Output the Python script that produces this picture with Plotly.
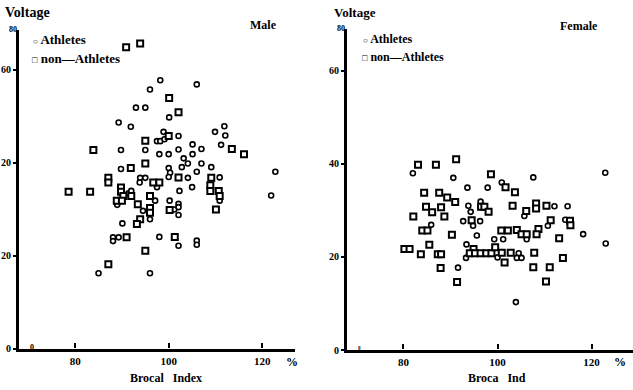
import plotly.graph_objects as go

# ---------------- data (Broca index %, voltage) ----------------
male_ath_x = [98.2, 106.0, 96.0, 93.0, 95.0, 100.1, 89.3, 91.9, 111.9, 109.9, 112.1, 98.9, 97.5, 98.2,
              99.1, 102.1, 105.1, 111.2, 89.8, 95.0, 102.1, 107.0, 98.0, 100.0, 105.1, 103.2, 104.1,
              107.0, 89.8, 100.0, 100.3, 100.0, 102.8, 109.1, 106.0, 122.8, 93.9, 93.8, 95.0, 104.1,
              110.9, 97.5, 105.0, 91.4, 92.0, 102.3, 121.9, 97.1, 100.2, 110.9, 89.0, 94.5, 101.2,
              102.1, 102.1, 102.1, 90.1, 96.0, 88.1, 88.1, 89.3, 98.0, 102.1, 106.0, 106.0, 85.0, 96.0]
male_ath_y = [57.7, 56.8, 55.7, 51.8, 51.8, 49.7, 48.6, 47.7, 47.8, 46.6, 45.8, 46.6, 44.6, 44.6,
              45.0, 45.7, 43.9, 43.8, 42.7, 42.7, 42.8, 42.9, 41.8, 41.8, 41.8, 40.9, 39.8,
              39.8, 38.6, 38.8, 37.8, 36.9, 39.0, 39.0, 38.0, 38.0, 36.7, 35.7, 36.7, 36.7,
              36.8, 34.7, 34.7, 33.4, 33.9, 33.9, 32.9, 31.8, 31.8, 31.8, 30.9, 29.6, 29.9,
              31.1, 30.4, 28.7, 26.9, 27.8, 23.9, 23.1, 23.9, 24.0, 22.1, 23.2, 22.3, 16.2, 16.2]

male_non_x = [90.9, 93.9, 100.1, 102.1, 100.0, 95.0, 83.9, 113.5, 116.1, 91.9, 95.0, 102.1, 109.1,
              87.1, 87.1, 96.7, 98.0, 78.6, 83.2, 89.8, 89.8, 90.3, 92.0, 88.9, 90.0, 93.4, 96.0,
              108.9, 108.9, 110.7, 110.9, 96.0, 96.0, 100.2, 110.1, 93.9, 93.2, 91.0, 101.3, 95.0, 87.1]
male_non_y = [64.8, 65.6, 53.9, 50.8, 45.7, 44.7, 42.7, 42.9, 41.8, 38.8, 39.8, 36.8, 36.7,
              36.7, 35.7, 35.7, 35.7, 33.7, 33.7, 34.6, 33.7, 32.8, 32.8, 31.8, 31.8, 31.0, 32.8,
              35.1, 33.9, 33.9, 32.8, 30.2, 29.2, 29.8, 29.9, 27.8, 26.8, 23.9, 24.0, 21.0, 18.1]

fem_ath_x = [82.0, 90.6, 107.6, 122.9, 93.6, 97.9, 100.9, 96.4, 93.8, 94.3, 112.1, 114.9, 85.9,
             92.7, 94.8, 96.3, 105.7, 110.7, 114.4, 95.6, 99.3, 101.2, 106.2, 118.2, 123.0, 93.4,
             93.3, 100.0, 104.5, 104.1, 105.1, 91.6, 103.9]
fem_ath_y = [38.0, 37.0, 37.1, 38.1, 34.9, 34.9, 36.0, 31.9, 31.0, 29.7, 30.9, 30.9, 26.9,
             27.7, 26.7, 27.7, 28.8, 26.7, 28.0, 24.6, 23.8, 23.8, 23.8, 24.9, 22.9, 22.7,
             19.8, 19.9, 20.8, 19.8, 19.8, 17.7, 10.3]

fem_non_x = [91.2, 83.1, 86.9, 98.6, 101.7, 103.7, 84.4, 87.6, 89.3, 91.0, 84.8, 88.0, 86.1, 82.1,
             88.7, 96.5, 97.2, 98.1, 103.2, 106.1, 108.2, 108.2, 110.4, 94.5, 111.3, 115.4, 115.5,
             84.0, 85.1, 90.3, 100.8, 102.2, 104.1, 105.1, 106.2, 108.7, 108.3, 113.1, 85.5, 80.2,
             81.3, 83.7, 87.3, 88.0, 94.9, 94.1, 95.2, 96.4, 97.6, 98.7, 99.5, 100.9, 102.8, 107.8,
             101.5, 113.9, 87.9, 107.6, 111.1, 91.4, 110.3]
fem_non_y = [41.0, 39.8, 39.8, 37.8, 35.0, 33.9, 33.8, 33.8, 32.8, 31.8, 30.8, 30.7, 29.6, 28.7,
             28.7, 30.8, 30.8, 29.7, 31.0, 29.9, 31.5, 30.4, 31.0, 27.9, 27.9, 27.8, 26.8,
             25.7, 25.7, 24.8, 25.7, 25.7, 25.8, 24.9, 24.9, 26.0, 24.9, 24.0, 22.6, 21.7,
             21.7, 20.6, 20.6, 20.6, 21.7, 20.8, 20.8, 20.8, 20.8, 20.8, 22.1, 20.9, 20.9, 20.9,
             18.8, 19.8, 17.6, 17.8, 17.8, 14.6, 14.7]

x_tickvals = [80, 100, 120]
x_ticktext = ["80", "100", "120"]
y_tickvals = [0, 20, 40, 60]
male_y_ticktext = ["0", "20", "20", "60"]
fem_y_ticktext = ["0", "20", "40", "60"]

# ---------------- figure ----------------
W, H = 633, 390
FONT = "Liberation Serif"

def px(x):
    return x / W

def py(y):
    return 1 - y / H

circle_style = dict(symbol="circle", size=5, color="white", line=dict(color="black", width=1.6))
square_style = dict(symbol="square", size=6, color="white", line=dict(color="black", width=2))

fig = go.Figure()
fig.add_trace(go.Scatter(x=male_ath_x, y=male_ath_y, mode="markers", marker=circle_style,
                         name="Athletes", xaxis="x", yaxis="y", showlegend=False))
fig.add_trace(go.Scatter(x=male_non_x, y=male_non_y, mode="markers", marker=square_style,
                         name="non-Athletes", xaxis="x", yaxis="y", showlegend=False))
fig.add_trace(go.Scatter(x=fem_ath_x, y=fem_ath_y, mode="markers", marker=circle_style,
                         name="Athletes", xaxis="x2", yaxis="y2", showlegend=False))
fig.add_trace(go.Scatter(x=fem_non_x, y=fem_non_y, mode="markers", marker=square_style,
                         name="non-Athletes", xaxis="x2", yaxis="y2", showlegend=False))
# empty traces so the helper tick subplots are created
fig.add_trace(go.Scatter(x=[], y=[], mode="markers", xaxis="x3", yaxis="y3",
                         showlegend=False, hoverinfo="skip"))
fig.add_trace(go.Scatter(x=[], y=[], mode="markers", xaxis="x4", yaxis="y4",
                         showlegend=False, hoverinfo="skip"))

tickfont = dict(family=FONT, size=11, color="black", weight="bold")
ytickfont = dict(family=FONT, size=10, color="black", weight="bold")

def xaxis(domain, rng, anchor):
    return dict(domain=domain, range=rng, anchor=anchor, showgrid=False, zeroline=False,
                showline=True, linecolor="#000000", linewidth=3, ticks="",
                tickvals=x_tickvals, ticktext=x_ticktext,
                tickfont=tickfont, automargin=False, layer="above traces")

def yaxis(domain, rng, anchor, ticktext):
    return dict(domain=domain, range=rng, anchor=anchor, showgrid=False, zeroline=False,
                showline=True, linecolor="#000000", linewidth=3, ticks="outside", ticklen=3,
                tickwidth=2, tickcolor="#000000", tickvals=y_tickvals, ticktext=ticktext,
                tickfont=ytickfont, automargin=False, layer="above traces")

# helper axes: upward tick marks sitting on top of each x axis line
def xtick_axis(domain, rng, anchor):
    return dict(domain=domain, range=rng, anchor=anchor, side="top", showgrid=False,
                zeroline=False, showline=False, ticks="outside", ticklen=5, tickwidth=2,
                tickcolor="#000000", tickvals=x_tickvals, showticklabels=False,
                automargin=False, fixedrange=True)

def ytick_holder(domain, anchor):
    return dict(domain=domain, range=[0, 1], anchor=anchor, showgrid=False, zeroline=False,
                showline=False, ticks="", showticklabels=False, automargin=False,
                fixedrange=True)

fig.update_layout(
    width=W, height=H, margin=dict(l=0, r=0, t=0, b=0, pad=0),
    paper_bgcolor="white", plot_bgcolor="rgba(0,0,0,0)",
    xaxis=xaxis([px(19), px(295)], [68, 127], "y"),
    yaxis=yaxis([py(348.5), py(30)], [0, 68.5], "x", male_y_ticktext),
    xaxis2=xaxis([px(347), 1.0], [68, 128.8], "y2"),
    yaxis2=yaxis([py(350), py(29)], [0, 69], "x2", fem_y_ticktext),
    xaxis3=xtick_axis([px(19), px(295)], [68, 127], "y3"),
    yaxis3=ytick_holder([py(352), py(348.5)], "x3"),
    xaxis4=xtick_axis([px(347), 1.0], [68, 128.8], "y4"),
    yaxis4=ytick_holder([py(353), py(350)], "x4"),
)

def ann(text, x, y, size=12, xanchor="left"):
    fig.add_annotation(text=text, x=px(x), y=py(y), xref="paper", yref="paper",
                       xanchor=xanchor, yanchor="middle", showarrow=False,
                       font=dict(family=FONT, size=size, color="black", weight="bold"))

# titles / labels
ann("Voltage", 3, 12, 14)
ann("Voltage", 332, 12, 13)
ann("Male", 248, 25, 12)
ann("Female", 558, 26, 12)
ann("Brocal&nbsp;&nbsp; Index", 166, 378, 12, "center")
ann("Broca&nbsp;&nbsp; Ind", 497, 378, 12, "center")
ann("%", 284, 362, 12)
ann("%", 612, 362, 12)
ann("80", 13, 30, 8, "center")
ann("80", 341, 29, 8, "center")
ann("0", 32, 347, 8, "center")
ann("\u2016", 359, 349, 8, "center")

# legend text
ann("<span style='font-size:8px'>\u25CB</span> Athletes", 31, 40, 13)
ann("<span style='font-size:9px'>\u25A1</span> non\u2014Athletes", 30, 58, 13)
ann("<span style='font-size:8px'>\u25CB</span> Athletes", 361, 39, 12)
ann("<span style='font-size:9px'>\u25A1</span> non\u2014Athletes", 360, 57, 12)

fig.write_html("out.html", config={"displayModeBar": False},
               post_script="document.body.style.margin='0';")
